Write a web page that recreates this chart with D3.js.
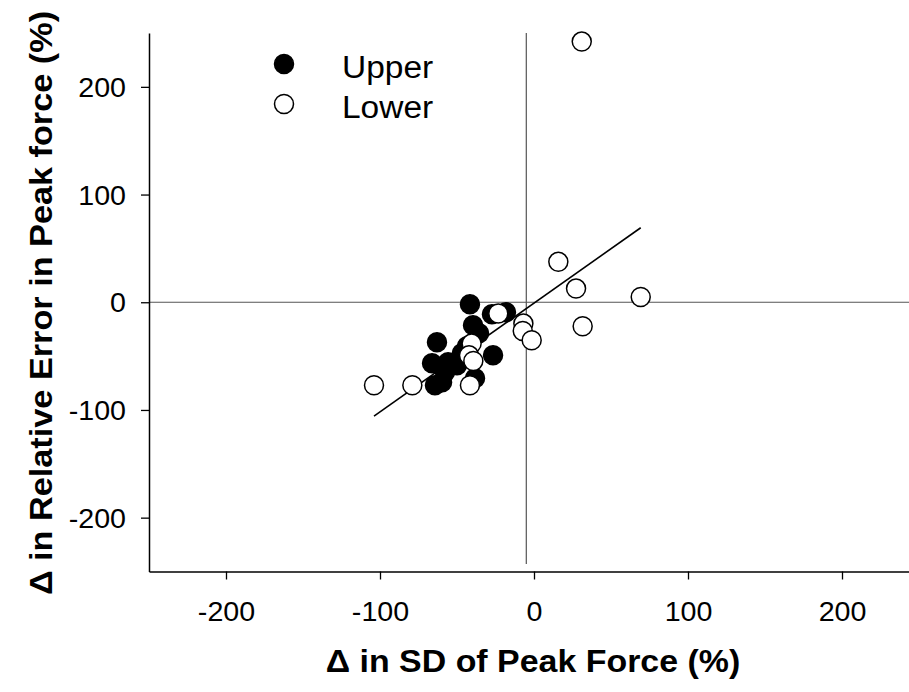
<!DOCTYPE html>
<html>
<head>
<meta charset="utf-8">
<script src="https://cdnjs.cloudflare.com/ajax/libs/d3/7.8.5/d3.min.js"></script>
<style>
  body { margin: 0; background: #fff; }
  text { font-family: 'Liberation Sans', Arial, sans-serif; fill: #000; }
</style>
</head>
<body>
<div id="chart"></div>
<script>
// Upper group (filled circles)
const upperX = [-41.6, -27.3, -18.2, -39.6, -35.7, -63, -43.5, -46.8, -26.6, -66.2, -55.8, -50, -57.8, -64.3, -59.7, -38.3];
const upperY = [-1.9, -11.2, -9.3, -21.4, -28.8, -37.2, -40.9, -47.4, -49.3, -56.7, -55.8, -58.6, -65, -77.1, -74.3, -70.6];
// Lower group (open circles)
const lowerX = [31, 15.8, 27.3, 69.3, 31.6, -6.9, -7.3, -1.5, -103.9, -79, -41.6, -40.5, -42.2, -39.4, -23.2];
const lowerY = [242, 37.5, 12.7, 4.9, -22.3, -19.8, -26.7, -35.3, -77.1, -77.1, -77.1, -38.4, -49.3, -54.5, -10.5];

const xTicks = [-200, -100, 0, 100, 200];
const yTicks = [-200, -100, 0, 100, 200];
const seriesNames = ['Upper', 'Lower'];

// regression line fitted through all points
const fitSlope = 1.01;
const fitIntercept = -0.8;
// reference cross lines
const refX = -5;
const refXSpan = [-243, 250];
const refY = 0;

const cfg = {
  w: 909,
  h: 692,
  r: 9.5,
  tickFont: 27,
  titleFont: 32,
  legendFont: 31,
};

const svg = d3.select('#chart')
  .append('svg')
  .attr('width', cfg.w)
  .attr('height', cfg.h);

const x = d3.scaleLinear().domain([-250, 250]).range([149, 919]);
const y = d3.scaleLinear().domain([-250, 250]).range([571.5, 33]);

// widen text a little, the reference font runs wide
function stretch(sel, k) {
  sel.each(function () {
    const len = this.getComputedTextLength();
    d3.select(this).attr('textLength', len * k).attr('lengthAdjust', 'spacingAndGlyphs');
  });
}

// reference lines
svg.append('line')
  .attr('x1', x(-250)).attr('x2', x(250))
  .attr('y1', y(refY)).attr('y2', y(refY))
  .style('stroke', '#555').style('stroke-width', '1.2px');
svg.append('line')
  .attr('x1', x(refX)).attr('x2', x(refX))
  .attr('y1', y(refXSpan[1])).attr('y2', y(refXSpan[0]))
  .style('stroke', '#555').style('stroke-width', '1.2px');

// axes
const xAxis = svg.append('g')
  .attr('transform', `translate(0, ${y(-250)})`)
  .call(d3.axisBottom(x).tickValues(xTicks).tickSize(8).tickSizeOuter(0).tickFormat(d => String(d)));
const yAxis = svg.append('g')
  .attr('transform', `translate(${x(-250)}, 0)`)
  .call(d3.axisLeft(y).tickValues(yTicks).tickSize(8).tickSizeOuter(0).tickPadding(15).tickFormat(d => String(d)));

[xAxis, yAxis].forEach((g) => {
  g.select('.domain').style('stroke', '#000').style('stroke-width', '1.5px');
  g.selectAll('.tick line').style('stroke', '#000').style('stroke-width', '1.3px');
  g.selectAll('.tick text')
    .style('font-family', "'Liberation Sans', Arial, sans-serif")
    .style('font-size', `${cfg.tickFont}px`)
    .attr('fill', '#000');
});
xAxis.selectAll('.tick text').attr('dy', '0.72em').attr('y', 30);
yAxis.selectAll('.tick text').attr('dy', '0.36em');
xAxis.selectAll('.tick text').call(stretch, 1.06);
yAxis.selectAll('.tick text').call(stretch, 1.06);

// regression line
const allX = upperX.concat(lowerX);
const fitExt = d3.extent(allX);
svg.append('line')
  .attr('x1', x(fitExt[0])).attr('y1', y(fitSlope * fitExt[0] + fitIntercept))
  .attr('x2', x(fitExt[1])).attr('y2', y(fitSlope * fitExt[1] + fitIntercept))
  .style('stroke', '#000').style('stroke-width', '1.6px');

// points
const upper = upperX.map((v, i) => ({ x: v, y: upperY[i] }));
const lower = lowerX.map((v, i) => ({ x: v, y: lowerY[i] }));

svg.append('g').selectAll('circle')
  .data(upper)
  .enter()
  .append('circle')
  .attr('cx', d => x(d.x))
  .attr('cy', d => y(d.y))
  .attr('r', cfg.r)
  .style('fill', '#000')
  .style('stroke', '#000')
  .style('stroke-width', '1.5px');

svg.append('g').selectAll('circle')
  .data(lower)
  .enter()
  .append('circle')
  .attr('cx', d => x(d.x))
  .attr('cy', d => y(d.y))
  .attr('r', cfg.r)
  .style('fill', '#fff')
  .style('stroke', '#000')
  .style('stroke-width', '1.5px');

// legend
const legend = svg.append('g').attr('transform', 'translate(284, 64)');
seriesNames.forEach((name, i) => {
  const row = legend.append('g').attr('transform', `translate(0, ${i * 40})`);
  row.append('circle')
    .attr('r', cfg.r)
    .style('fill', i === 0 ? '#000' : '#fff')
    .style('stroke', '#000')
    .style('stroke-width', '1.5px');
  row.append('text')
    .attr('x', 58)
    .attr('y', 3)
    .attr('dy', '0.36em')
    .style('font-size', `${cfg.legendFont}px`)
    .text(name)
    .call(stretch, 1.08);
});

// axis titles
svg.append('text')
  .attr('x', 533)
  .attr('y', 672)
  .attr('text-anchor', 'middle')
  .style('font-size', `${cfg.titleFont}px`)
  .style('font-weight', 'bold')
  .text('\u0394 in SD of Peak Force (%)')
  .call(stretch, 1.06);

svg.append('text')
  .attr('transform', 'translate(52, 303) rotate(-90)')
  .attr('text-anchor', 'middle')
  .style('font-size', `${cfg.titleFont}px`)
  .style('font-weight', 'bold')
  .text('\u0394 in Relative Error in Peak force (%)')
  .call(stretch, 1.07);
</script>
</body>
</html>
